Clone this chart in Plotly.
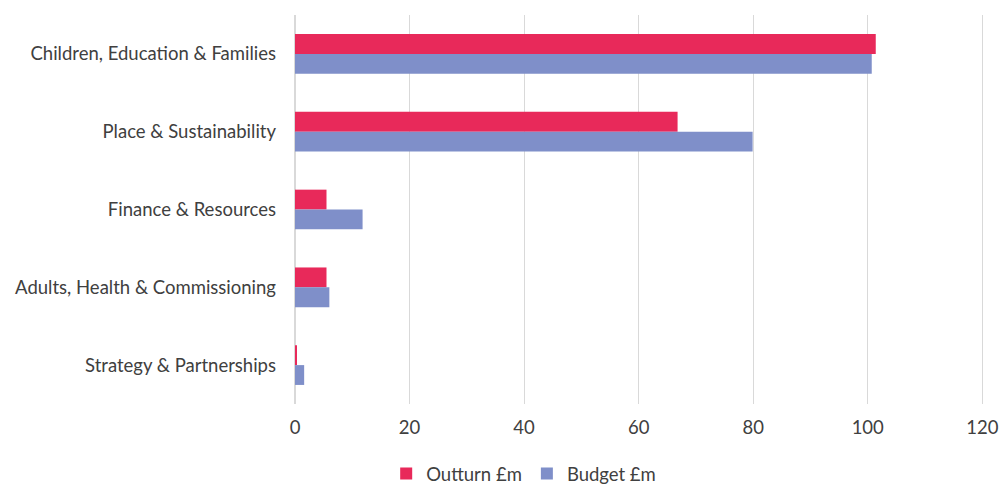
import plotly.graph_objects as go

categories = ["Children, Education & Families", "Place & Sustainability", "Finance & Resources",
              "Adults, Health & Commissioning", "Strategy & Partnerships"]
outturn = [101.4, 66.8, 5.5, 5.5, 0.35]
budget = [100.7, 79.9, 11.8, 6.0, 1.6]
x_ticks = [0, 20, 40, 60, 80, 100, 120]

fig = go.Figure()
fig.add_trace(go.Bar(y=categories, x=outturn, orientation="h", name="Outturn £m",
                     marker=dict(color="#E8295A", line=dict(width=0))))
fig.add_trace(go.Bar(y=categories, x=budget, orientation="h", name="Budget £m",
                     marker=dict(color="#7F8FC9", line=dict(width=0))))

fig.update_layout(
    width=1001, height=484,
    margin=dict(l=295, r=13, t=15, b=80, autoexpand=False),
    barmode="group", bargap=0.49, bargroupgap=0,
    plot_bgcolor="white", paper_bgcolor="white",
    font=dict(family="Lato, Open Sans, sans-serif", size=18.5, color="#404040"),
    showlegend=True,
    legend=dict(orientation="h", x=0.33, xanchor="center", y=-0.18, yanchor="middle",
                font=dict(size=18.5, color="#404040"), traceorder="normal",
                itemwidth=30, tracegroupgap=0),
    xaxis=dict(range=[0, 121], tickvals=x_ticks, showgrid=True, gridcolor="#D9D9D9", gridwidth=1,
               zeroline=True, zerolinecolor="#D9D9D9", zerolinewidth=2, showline=False,
               ticks="", ticklabelstandoff=10, tickfont=dict(size=18.5)),
    yaxis=dict(autorange="reversed", showgrid=False, ticks="", ticklabelstandoff=18,
               tickfont=dict(size=18.5)),
)

fig.write_html("out.html")
